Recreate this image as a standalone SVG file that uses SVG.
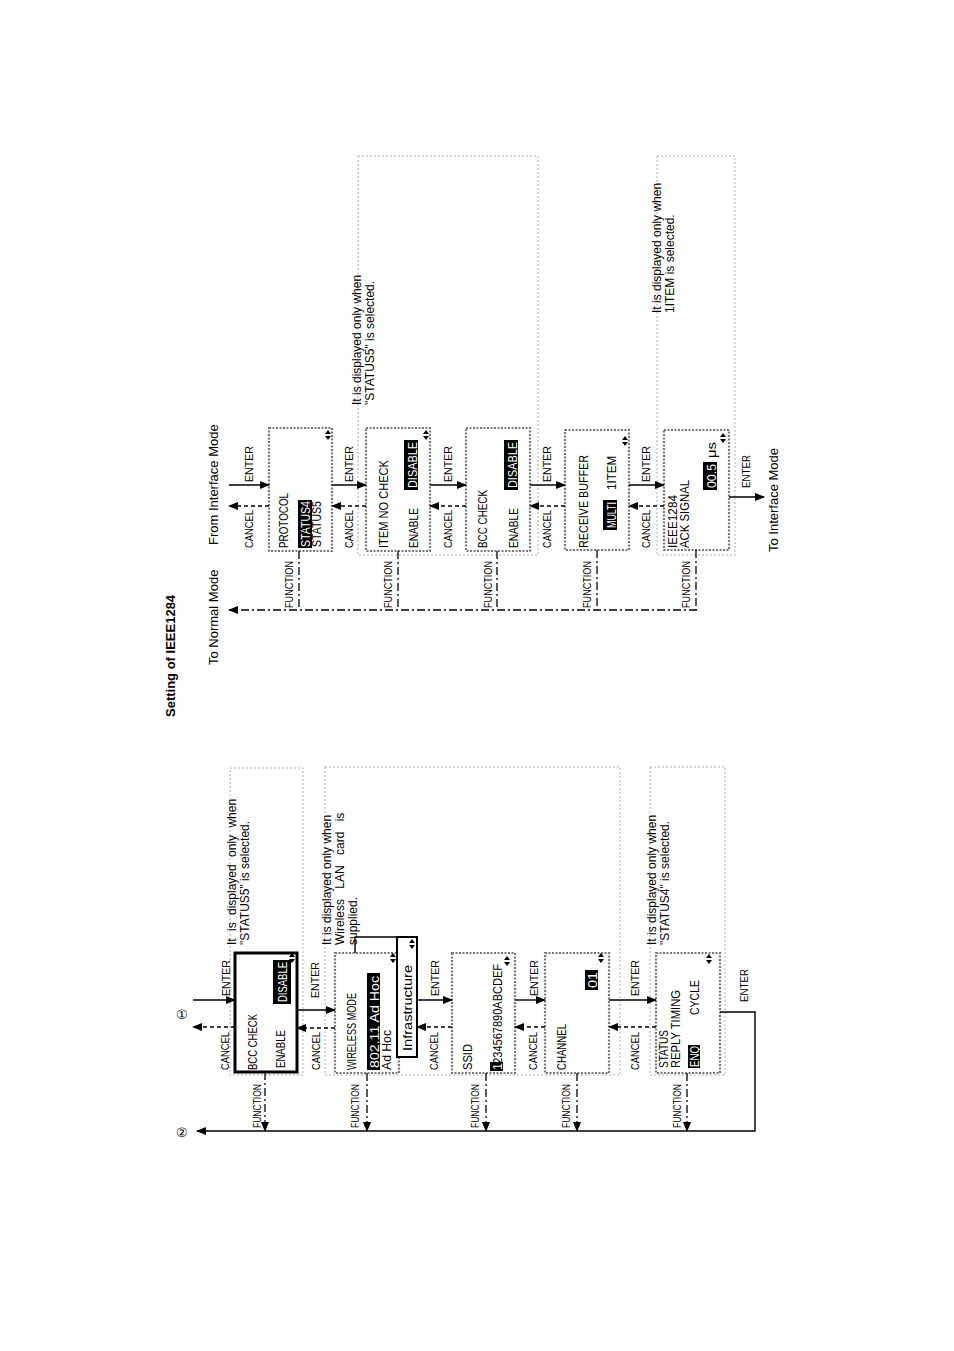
<svg xmlns="http://www.w3.org/2000/svg" width="954" height="1351" viewBox="0 0 954 1351">
<defs>
<marker id="ah" markerWidth="10" markerHeight="8" refX="9" refY="4" orient="auto" markerUnits="userSpaceOnUse"><path d="M0,0 L10,4 L0,8 z" fill="#000"/></marker>
</defs>
<style>
text{font-family:"Liberation Sans",Arial,sans-serif;fill:#000}
.l{font-size:12px}
.n{font-size:13px}
.m{font-size:12.5px}
.w{fill:#fff}
.hl{fill:#000}
.box{fill:none;stroke:#777;stroke-width:2.2;stroke-dasharray:2,1.5}
.reg{fill:none;stroke:#999;stroke-width:0.8;stroke-dasharray:2,2}
.ent{stroke:#000;stroke-width:1.4;fill:none;marker-end:url(#ah)}
.can{stroke:#000;stroke-width:1.6;fill:none;stroke-dasharray:4,3;marker-end:url(#ah)}
.fn{stroke:#000;stroke-width:1.3;fill:none;stroke-dasharray:8,3,2,3}
.fna{stroke:#000;stroke-width:1.3;fill:none;stroke-dasharray:8,3,2,3;marker-end:url(#ah)}
.ln{stroke:#000;stroke-width:1.4;fill:none}
</style>
<rect width="954" height="1351" fill="#fff"/>

<g id="regions">
<rect class="reg" x="230" y="768" width="73" height="307"/>
<rect class="reg" x="325" y="767" width="295" height="308"/>
<rect class="reg" x="650" y="767" width="75" height="308"/>
<rect class="reg" x="358" y="156" width="180" height="399"/>
<rect class="reg" x="657" y="156" width="78" height="399"/>
</g>

<g id="titles">
<text transform="translate(175 717) rotate(-90)" style="font-size:13px;font-weight:bold">Setting of IEEE1284</text>
<text transform="translate(218 665) rotate(-90)" class="n">To Normal Mode</text>
<text transform="translate(218 545) rotate(-90)" class="n">From Interface Mode</text>
<text transform="translate(778 552) rotate(-90)" class="n">To Interface Mode</text>
<text x="176" y="1019" style="font-size:13px">①</text>
<text x="176" y="1137" style="font-size:13px">②</text>
</g>

<g id="notes">
<text transform="translate(236 945) rotate(-90)" class="l" style="word-spacing:4px">It is displayed only when</text>
<text transform="translate(249 945) rotate(-90)" class="l">"STATUS5" is selected.</text>
<text transform="translate(331 945) rotate(-90)" class="l">It is displayed only when</text>
<text transform="translate(344 945) rotate(-90)" class="l" style="word-spacing:7px">Wireless LAN card is</text>
<text transform="translate(357 945) rotate(-90)" class="l">supplied.</text>
<text transform="translate(656 945) rotate(-90)" class="l">It is displayed only when</text>
<text transform="translate(669 945) rotate(-90)" class="l">"STATUS4" is selected.</text>
<text transform="translate(361 405) rotate(-90)" class="l">It is displayed only when</text>
<text transform="translate(374 405) rotate(-90)" class="l">"STATUS5" is selected.</text>
<text transform="translate(661 313) rotate(-90)" class="l">It is displayed only when</text>
<text transform="translate(674 313) rotate(-90)" class="l">1ITEM is selected.</text>
</g>

<g id="n-bcc1">
<rect x="235" y="953" width="62" height="119" fill="none" stroke="#000" stroke-width="3"/>
<text transform="translate(257 1070) rotate(-90)" class="m" textLength="56" lengthAdjust="spacingAndGlyphs">BCC CHECK</text>
<text transform="translate(285 1068) rotate(-90)" class="m" textLength="38" lengthAdjust="spacingAndGlyphs">ENABLE</text>
<rect x="273" y="960" width="18" height="44" class="hl"/>
<text transform="translate(287 1002) rotate(-90)" class="m w" textLength="40" lengthAdjust="spacingAndGlyphs">DISABLE</text>
<path d="M289,957 l3,-4 3,4 z M289,959 l3,4 3,-4 z" fill="#000"/>
</g>

<g id="n-wireless">
<rect class="box" x="335" y="953" width="64" height="120"/>
<text transform="translate(356 1070) rotate(-90)" class="m" textLength="77" lengthAdjust="spacingAndGlyphs">WIRELESS MODE</text>
<rect x="367" y="973" width="13" height="97" class="hl"/>
<text transform="translate(379 1068) rotate(-90)" class="m w" textLength="92" lengthAdjust="spacingAndGlyphs">802.11 Ad Hoc</text>
<text transform="translate(391 1070) rotate(-90)" class="m" textLength="40" lengthAdjust="spacingAndGlyphs">Ad Hoc</text>
<path d="M390,957 l3,-4 3,4 z M390,959 l3,4 3,-4 z" fill="#000"/>
<rect x="397" y="937" width="20" height="120" fill="#fff" stroke="#000" stroke-width="2"/>
<text transform="translate(412 1051) rotate(-90)" class="m" textLength="86" lengthAdjust="spacingAndGlyphs">Infrastructure</text>
<path d="M409,943 l3,-4 3,4 z M409,945 l3,4 3,-4 z" fill="#000"/>
<path class="ln" d="M355,953 V937 H397" stroke-width="2"/>
</g>

<g id="n-ssid">
<rect class="box" x="452" y="953" width="63" height="120"/>
<text transform="translate(472 1070) rotate(-90)" class="m" textLength="26" lengthAdjust="spacingAndGlyphs">SSID</text>
<rect x="490" y="1062" width="13" height="9" class="hl"/>
<text transform="translate(502 1070) rotate(-90)" class="m" textLength="106" lengthAdjust="spacingAndGlyphs">1234567890ABCDEF</text>
<text transform="translate(502 1070) rotate(-90)" class="m w">1</text>
<path d="M504,960 l3,-4 3,4 z M504,962 l3,4 3,-4 z" fill="#000"/>
</g>

<g id="n-channel">
<rect class="box" x="545" y="953" width="64" height="120"/>
<text transform="translate(566 1070) rotate(-90)" class="m" textLength="46" lengthAdjust="spacingAndGlyphs">CHANNEL</text>
<rect x="585" y="970" width="13" height="20" class="hl"/>
<text transform="translate(597 988) rotate(-90)" class="m w" textLength="16" lengthAdjust="spacingAndGlyphs">01</text>
<path d="M598,957 l3,-4 3,4 z M598,959 l3,4 3,-4 z" fill="#000"/>
</g>

<g id="n-status">
<rect class="box" x="656" y="953" width="64" height="120"/>
<text transform="translate(668 1068) rotate(-90)" class="m" textLength="38" lengthAdjust="spacingAndGlyphs">STATUS</text>
<text transform="translate(680 1068) rotate(-90)" class="m" textLength="78" lengthAdjust="spacingAndGlyphs">REPLY TIMING</text>
<rect x="688" y="1045" width="12" height="23" class="hl"/>
<text transform="translate(699 1067) rotate(-90)" class="m w" textLength="21" lengthAdjust="spacingAndGlyphs">ENQ</text>
<text transform="translate(699 1015) rotate(-90)" class="m" textLength="35" lengthAdjust="spacingAndGlyphs">CYCLE</text>
<path d="M706,958 l3,-4 3,4 z M706,960 l3,4 3,-4 z" fill="#000"/>
</g>

<g id="n-protocol">
<rect class="box" x="269" y="428" width="63" height="123"/>
<text transform="translate(288 548) rotate(-90)" class="m" textLength="55" lengthAdjust="spacingAndGlyphs">PROTOCOL</text>
<rect x="298" y="500" width="14" height="48" class="hl"/>
<text transform="translate(310 547) rotate(-90)" class="m w" textLength="46" lengthAdjust="spacingAndGlyphs">STATUS4</text>
<text transform="translate(321 547) rotate(-90)" class="m" textLength="46" lengthAdjust="spacingAndGlyphs">STATUS5</text>
<path d="M325,434 l3,-4 3,4 z M325,436 l3,4 3,-4 z" fill="#000"/>
</g>

<g id="n-itemno">
<rect class="box" x="366" y="428" width="64" height="123"/>
<text transform="translate(388 548) rotate(-90)" class="m" textLength="88" lengthAdjust="spacingAndGlyphs">ITEM NO CHECK</text>
<text transform="translate(418 548) rotate(-90)" class="m" textLength="40" lengthAdjust="spacingAndGlyphs">ENABLE</text>
<rect x="404" y="440" width="14" height="50" class="hl"/>
<text transform="translate(417 488) rotate(-90)" class="m w" textLength="46" lengthAdjust="spacingAndGlyphs">DISABLE</text>
<path d="M423,434 l3,-4 3,4 z M423,436 l3,4 3,-4 z" fill="#000"/>
</g>

<g id="n-bcc2">
<rect class="box" x="466" y="428" width="64" height="123"/>
<text transform="translate(487 548) rotate(-90)" class="m" textLength="58" lengthAdjust="spacingAndGlyphs">BCC CHECK</text>
<text transform="translate(518 548) rotate(-90)" class="m" textLength="40" lengthAdjust="spacingAndGlyphs">ENABLE</text>
<rect x="504" y="440" width="14" height="50" class="hl"/>
<text transform="translate(517 488) rotate(-90)" class="m w" textLength="46" lengthAdjust="spacingAndGlyphs">DISABLE</text>
</g>

<g id="n-recv">
<rect class="box" x="565" y="430" width="64" height="120"/>
<text transform="translate(588 548) rotate(-90)" class="m" textLength="93" lengthAdjust="spacingAndGlyphs">RECEIVE BUFFER</text>
<rect x="603" y="500" width="14" height="30" class="hl"/>
<text transform="translate(616 528) rotate(-90)" class="m w" textLength="26" lengthAdjust="spacingAndGlyphs">MULTI</text>
<text transform="translate(616 490) rotate(-90)" class="m" textLength="34" lengthAdjust="spacingAndGlyphs">1ITEM</text>
<path d="M622,440 l3,-4 3,4 z M622,442 l3,4 3,-4 z" fill="#000"/>
</g>

<g id="n-ieee">
<rect class="box" x="664" y="430" width="65" height="120"/>
<text transform="translate(677 548) rotate(-90)" class="m" textLength="53" lengthAdjust="spacingAndGlyphs">IEEE1284</text>
<text transform="translate(689 548) rotate(-90)" class="m" textLength="68" lengthAdjust="spacingAndGlyphs">ACK SIGNAL</text>
<rect x="703" y="462" width="14" height="28" class="hl"/>
<text transform="translate(716 488) rotate(-90)" class="m w" textLength="24" lengthAdjust="spacingAndGlyphs">00.5</text>
<text transform="translate(716 458) rotate(-90)" class="m" textLength="16" lengthAdjust="spacingAndGlyphs">μs</text>
<path d="M720,437 l3,-4 3,4 z M720,439 l3,4 3,-4 z" fill="#000"/>
</g>

<g id="connectors">
<line class="ent" x1="193" y1="1000" x2="235" y2="1000"/>
<line class="can" x1="235" y1="1027" x2="193" y2="1027"/>
<line class="ent" x1="297" y1="1010" x2="335" y2="1010"/>
<line class="can" x1="335" y1="1028" x2="297" y2="1028"/>
<line class="ent" x1="417" y1="1000" x2="452" y2="1000"/>
<line class="can" x1="452" y1="1027" x2="417" y2="1027"/>
<line class="ent" x1="515" y1="1000" x2="545" y2="1000"/>
<line class="can" x1="545" y1="1027" x2="515" y2="1027"/>
<line class="ent" x1="609" y1="1000" x2="656" y2="1000"/>
<line class="can" x1="656" y1="1027" x2="609" y2="1027"/>
<path class="ent" d="M720,1012 H755 V1131 H197"/>
<line class="fna" x1="265" y1="1072" x2="265" y2="1131"/>
<line class="fna" x1="367" y1="1073" x2="367" y2="1131"/>
<line class="fna" x1="486" y1="1073" x2="486" y2="1131"/>
<line class="fna" x1="577" y1="1073" x2="577" y2="1131"/>
<line class="fna" x1="687" y1="1073" x2="687" y2="1131"/>
<line class="ent" x1="229" y1="485" x2="269" y2="485"/>
<line class="can" x1="269" y1="506" x2="229" y2="506"/>
<line class="ent" x1="332" y1="485" x2="366" y2="485"/>
<line class="can" x1="366" y1="506" x2="332" y2="506"/>
<line class="ent" x1="430" y1="485" x2="466" y2="485"/>
<line class="can" x1="466" y1="506" x2="430" y2="506"/>
<line class="ent" x1="530" y1="485" x2="565" y2="485"/>
<line class="can" x1="565" y1="506" x2="530" y2="506"/>
<line class="ent" x1="629" y1="485" x2="664" y2="485"/>
<line class="can" x1="664" y1="506" x2="629" y2="506"/>
<line class="ent" x1="729" y1="497" x2="764" y2="497"/>
<line class="fna" x1="697" y1="610" x2="229" y2="610"/>
<line class="fn" x1="299" y1="551" x2="299" y2="610"/>
<line class="fn" x1="398" y1="551" x2="398" y2="610"/>
<line class="fn" x1="497" y1="551" x2="497" y2="610"/>
<line class="fn" x1="597" y1="550" x2="597" y2="610"/>
<line class="fn" x1="696" y1="550" x2="696" y2="610"/>
</g>

<g id="labels" style="font-size:11.5px">
<text transform="translate(230 996) rotate(-90)" textLength="36" lengthAdjust="spacingAndGlyphs">ENTER</text>
<text transform="translate(229 1070) rotate(-90)" textLength="38" lengthAdjust="spacingAndGlyphs">CANCEL</text>
<text transform="translate(319 998) rotate(-90)" textLength="36" lengthAdjust="spacingAndGlyphs">ENTER</text>
<text transform="translate(320 1070) rotate(-90)" textLength="38" lengthAdjust="spacingAndGlyphs">CANCEL</text>
<text transform="translate(439 996) rotate(-90)" textLength="36" lengthAdjust="spacingAndGlyphs">ENTER</text>
<text transform="translate(438 1070) rotate(-90)" textLength="38" lengthAdjust="spacingAndGlyphs">CANCEL</text>
<text transform="translate(538 996) rotate(-90)" textLength="36" lengthAdjust="spacingAndGlyphs">ENTER</text>
<text transform="translate(537 1070) rotate(-90)" textLength="38" lengthAdjust="spacingAndGlyphs">CANCEL</text>
<text transform="translate(639 996) rotate(-90)" textLength="36" lengthAdjust="spacingAndGlyphs">ENTER</text>
<text transform="translate(639 1070) rotate(-90)" textLength="38" lengthAdjust="spacingAndGlyphs">CANCEL</text>
<text transform="translate(748 1002) rotate(-90)" textLength="33" lengthAdjust="spacingAndGlyphs">ENTER</text>
<text transform="translate(261 1128) rotate(-90)" textLength="44" lengthAdjust="spacingAndGlyphs">FUNCTION</text>
<text transform="translate(359 1128) rotate(-90)" textLength="44" lengthAdjust="spacingAndGlyphs">FUNCTION</text>
<text transform="translate(479 1128) rotate(-90)" textLength="44" lengthAdjust="spacingAndGlyphs">FUNCTION</text>
<text transform="translate(570 1128) rotate(-90)" textLength="44" lengthAdjust="spacingAndGlyphs">FUNCTION</text>
<text transform="translate(681 1128) rotate(-90)" textLength="44" lengthAdjust="spacingAndGlyphs">FUNCTION</text>
<text transform="translate(253 482) rotate(-90)" textLength="36" lengthAdjust="spacingAndGlyphs">ENTER</text>
<text transform="translate(253 548) rotate(-90)" textLength="38" lengthAdjust="spacingAndGlyphs">CANCEL</text>
<text transform="translate(353 482) rotate(-90)" textLength="36" lengthAdjust="spacingAndGlyphs">ENTER</text>
<text transform="translate(353 548) rotate(-90)" textLength="38" lengthAdjust="spacingAndGlyphs">CANCEL</text>
<text transform="translate(452 482) rotate(-90)" textLength="36" lengthAdjust="spacingAndGlyphs">ENTER</text>
<text transform="translate(452 548) rotate(-90)" textLength="38" lengthAdjust="spacingAndGlyphs">CANCEL</text>
<text transform="translate(551 482) rotate(-90)" textLength="36" lengthAdjust="spacingAndGlyphs">ENTER</text>
<text transform="translate(551 548) rotate(-90)" textLength="38" lengthAdjust="spacingAndGlyphs">CANCEL</text>
<text transform="translate(650 482) rotate(-90)" textLength="36" lengthAdjust="spacingAndGlyphs">ENTER</text>
<text transform="translate(650 548) rotate(-90)" textLength="38" lengthAdjust="spacingAndGlyphs">CANCEL</text>
<text transform="translate(750 488) rotate(-90)" textLength="33" lengthAdjust="spacingAndGlyphs">ENTER</text>
<text transform="translate(293 608) rotate(-90)" textLength="47" lengthAdjust="spacingAndGlyphs">FUNCTION</text>
<text transform="translate(392 608) rotate(-90)" textLength="47" lengthAdjust="spacingAndGlyphs">FUNCTION</text>
<text transform="translate(492 608) rotate(-90)" textLength="47" lengthAdjust="spacingAndGlyphs">FUNCTION</text>
<text transform="translate(591 608) rotate(-90)" textLength="47" lengthAdjust="spacingAndGlyphs">FUNCTION</text>
<text transform="translate(690 608) rotate(-90)" textLength="47" lengthAdjust="spacingAndGlyphs">FUNCTION</text>
</g>
</svg>
